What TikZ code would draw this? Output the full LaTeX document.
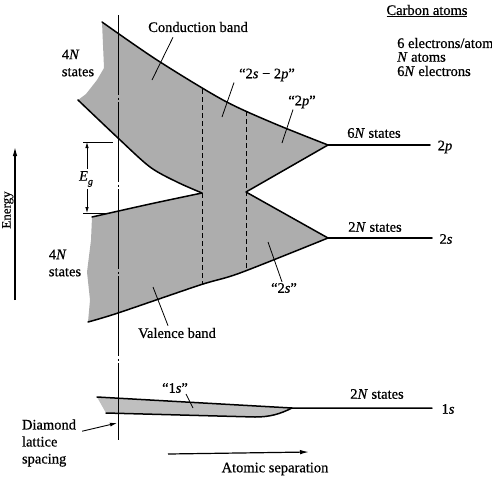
\documentclass[tikz,border=0pt]{standalone}
\usepackage{fontspec}
\setmainfont{Liberation Serif}[
  BoldFont={Liberation Serif},
  BoldItalicFont={Liberation Serif Italic},
  BoldFeatures={FakeBold=0.6},
  BoldItalicFeatures={FakeBold=0.6}]
\usetikzlibrary{arrows.meta}
\definecolor{band}{gray}{0.68}
\definecolor{bandone}{gray}{0.75}
\begin{document}
\begin{tikzpicture}[x=1pt,y=-1pt,
  font=\fontsize{14.5}{17}\selectfont\bfseries,
  bline/.style={line width=1.5pt, line cap=round, line join=round},
  dline/.style={line width=0.9pt, dash pattern=on 5pt off 3pt},
  leader/.style={line width=0.8pt},
  lbl/.style={inner sep=0pt},
  egarrow/.style={line width=0.8pt, -{Latex[length=6pt,width=3.5pt]}},
  bigarrow/.style={line width=1.2pt, -{Latex[length=9pt,width=4.5pt]}}]
\useasboundingbox (0,0) rectangle (492,480);

% key points
\coordinate (tip2p) at (328,145);
\coordinate (tip2s) at (328,238);
\coordinate (nR) at (246,192);
\coordinate (nL) at (202,193);

% big shaded band region
\fill[band] plot[smooth] coordinates {(102,22) (157,60) (223,100) (273,123) (328,145)}
  -- (nR) -- (tip2s)
  -- plot[smooth] coordinates {(328,238) (240,273) (200,285) (118,313) (88,322)}
  -- (90,300) -- (87,272) -- (91,240) -- (92,217)
  -- plot[smooth] coordinates {(92,217) (150,204) (202,193)}
  -- plot[smooth] coordinates {(202,193) (177,182) (150,167) (118,138) (78,100)}
  -- (86,94) -- (97,80) -- (104,68) -- (103,45) -- cycle;

% band edges
\draw[bline] plot[smooth] coordinates {(102,22) (157,60) (223,100) (273,123) (328,145)};
\draw[bline] (tip2p) -- (nR) -- (tip2s);
\draw[bline] plot[smooth] coordinates {(328,238) (240,273) (200,285) (118,313) (88,322)};
\draw[bline] plot[smooth] coordinates {(78,100) (118,138) (150,167) (177,182) (202,193)};
\draw[bline] plot[smooth] coordinates {(202,193) (150,204) (92,217)};

% atomic levels
\draw[bline] (tip2p) -- (430,145);
\draw[bline] (tip2s) -- (432,238);

% dashed verticals
\draw[dline] (202,89) -- (202,285);
\draw[dline] (246,111) -- (246,270);

% 1s band
\coordinate (s1a) at (97,397);
\coordinate (s1b) at (292,408);
\fill[bandone] (s1a) -- (s1b) .. controls (280,414) and (270,417) .. (255,417) -- (106,413) -- cycle;
\draw[bline] (s1a) -- (s1b) -- (432,408);
\draw[bline] (106,413) -- (255,417) .. controls (270,417) and (280,414) .. (s1b);

% diamond lattice spacing line
\coordinate (dtop) at (118,15);
\coordinate (dbot) at (118,440);
\draw[line width=1pt, dash pattern=on 80pt off 2.5pt on 2pt off 2.5pt] (dtop) -- (dbot);

% energy axis
\coordinate (ea) at (15,300);
\coordinate (eb) at (15,147);
\draw[bigarrow] (ea) -- (eb);
\node[rotate=90, anchor=south, inner sep=0pt, font=\fontsize{13}{15}\selectfont\bfseries] (energy) at (13.6,210) {Energy};

% band gap
\coordinate (egt) at (87,142);
\coordinate (egb) at (87,213);
\draw[line width=0.9pt] (83,142) -- (113,142);
\draw[line width=0.9pt] (83,213) -- (110,213);
\node[inner sep=2pt] (eg) at (86,179) {\textit{E}\raisebox{-4pt}{\fontsize{10}{12}\selectfont\textit{g}}};
\draw[egarrow] (eg.north -| egt) -- (egt);
\draw[egarrow] (eg.south -| egb) -- (egb);

% labels with leaders
\node[lbl] (cb) at (198,27) {Conduction band};
\coordinate (cbp) at (152,80);
\draw[leader] ([xshift=-25pt,yshift=-5pt]cb.south) -- (cbp);

\node[lbl] (vb) at (177,333) {Valence band};
\coordinate (vbp) at (153,287);
\draw[leader] ([xshift=-9pt,yshift=2pt]vb.north) -- (vbp);

\node[lbl] (l2s2p) at (267,75) {“2\textit{s} − 2\textit{p}”};
\coordinate (l2s2pp) at (222,117);
\draw[leader] ([xshift=-33pt,yshift=-1pt]l2s2p.south) -- (l2s2pp);

\node[lbl] (l2p) at (302,102) {“2\textit{p}”};
\coordinate (l2pp) at (282,143);
\draw[leader] ([xshift=-9pt,yshift=-1pt]l2p.south) -- (l2pp);

\node[lbl] (l2s) at (284,288) {“2\textit{s}”};
\coordinate (l2sp) at (268,242);
\draw[leader] ([xshift=-2pt,yshift=1pt]l2s.north) -- (l2sp);

\node[lbl] (l1s) at (175,388) {“1\textit{s}”};
\coordinate (l1sp) at (193,408);
\draw[leader] ([xshift=11pt,yshift=-1pt]l1s.south) -- (l1sp);

% state labels
\node[lbl, align=left] (s4a) at (78,63) {4\textit{N}\\states};
\node[lbl, align=left] (s4b) at (65,263) {4\textit{N}\\states};
\node[lbl] (s6n) at (374,133) {6\textit{N} states};
\node[lbl] (s2na) at (375,227) {2\textit{N} states};
\node[lbl] (s2nb) at (377,394) {2\textit{N} states};
\node[lbl] (lv2p) at (445,147) {2\textit{p}};
\node[lbl] (lv2s) at (446,239) {2\textit{s}};
\node[lbl] (lv1s) at (448,409) {1\textit{s}};

% diamond lattice spacing
\node[lbl, align=left] (dls) at (49,443) {Diamond\\lattice\\spacing};
\coordinate (dlsp) at (117,423);
\draw[line width=0.9pt, -{Latex[length=7pt,width=4pt]}] ([xshift=6pt,yshift=-12pt]dls.north east) -- (dlsp);

% atomic separation
\node[lbl] (as) at (275,469) {Atomic separation};
\coordinate (asa) at (168,454);
\coordinate (asb) at (309,452);
\draw[line width=1.2pt, -{Latex[length=9pt,width=4.5pt]}] (asa) -- (asb);

% carbon atoms box
\node[lbl] (ca) at (427,11) {\underline{Carbon atoms}};
\node[lbl, anchor=west] (c1) at (397,43) {6 electrons/atom};
\node[lbl, anchor=west] (c2) at (397,57) {\textit{N} atoms};
\node[lbl, anchor=west] (c3) at (397,71) {6\textit{N} electrons};
\end{tikzpicture}
\end{document}
